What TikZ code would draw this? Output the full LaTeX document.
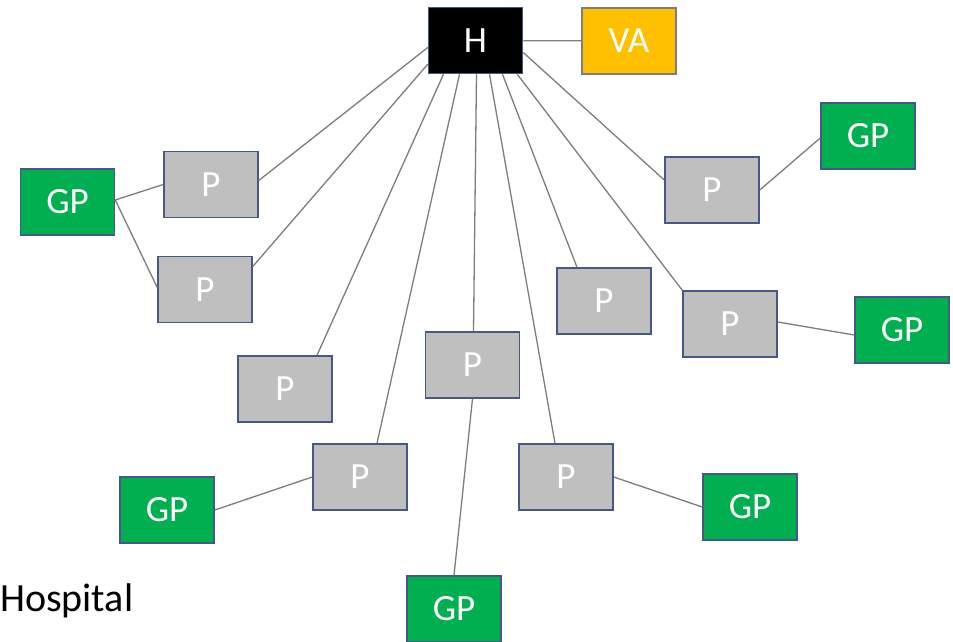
\documentclass[tikz,border=0pt]{standalone}
\usepackage{fontspec}
\setmainfont{Carlito}
\definecolor{boxedge}{RGB}{70,88,135}
\definecolor{pgrey}{RGB}{191,191,191}
\definecolor{gpgreen}{RGB}{0,176,80}
\definecolor{vayellow}{RGB}{255,192,0}
\definecolor{linkgrey}{RGB}{125,125,125}

\begin{document}
\begin{tikzpicture}[x=1pt, y=-1pt]
  \tikzset{box/.style={draw=boxedge,line width=1.5pt,minimum width=94pt,minimum height=66pt,
                       inner sep=0pt,text=white,font=\fontsize{37}{40}\selectfont},
           prac/.style={box,fill=pgrey},
           gp/.style={box,fill=gpgreen},
           link/.style={draw=linkgrey,line width=1.3pt}}
  \useasboundingbox (0,0) rectangle (953,642);
  \node[box,fill=black] (H) at (475.5,40.5) {H};
  \node[box,fill=vayellow,draw=linkgrey] (VA) at (629,41) {VA};
  \node[prac] (P1) at (211,184.5) {P};
  \node[prac] (P2) at (205,289.5) {P};
  \node[prac] (P3) at (712,190) {P};
  \node[prac] (P4) at (604,301) {P};
  \node[prac] (P5) at (730,324) {P};
  \node[prac] (P6) at (285,389) {P};
  \node[prac] (P7) at (472.5,365) {P};
  \node[prac] (P8) at (360,477) {P};
  \node[prac] (P9) at (566,477) {P};
  \node[gp] (GP1) at (67.5,202) {GP};
  \node[gp] (GP2) at (868,136) {GP};
  \node[gp] (GP3) at (902,330) {GP};
  \node[gp] (GP4) at (167,510) {GP};
  \node[gp] (GP5) at (750,507) {GP};
  \node[gp] (GP6) at (454,609) {GP};
  \node[anchor=base west,inner sep=0pt,font=\fontsize{40}{44}\selectfont] (hosp) at (0,611) {Hospital};
  % hospital to practices
  \draw[link] ([yshift=-7pt]H.west) -- ([yshift=4pt]P1.east);
  \draw[link] ([yshift=10pt]H.south west) -- ([yshift=23pt]P2.east);
  \draw[link] ([xshift=-32pt]H.south) -- ([xshift=32pt]P6.north);
  \draw[link] ([xshift=-16pt]H.south) -- ([xshift=17pt]P8.north);
  \draw[link] ([xshift=1pt]H.south) -- ([xshift=1pt]P7.north);
  \draw[link] ([xshift=14pt]H.south) -- ([xshift=-11pt]P9.north);
  \draw[link] ([xshift=27pt]H.south) -- ([xshift=-27pt]P4.north);
  \draw[link] ([xshift=-6pt]H.south east) -- (P5.north west);
  \draw[link] ([yshift=-12pt]H.east) -- ([yshift=10pt]P3.west);
  \draw[link] (H) -- (VA);
  % practices to GPs
  \draw[link] ([yshift=2pt]GP1.east) -- (P1.west);
  \draw[link] ([yshift=2pt]GP1.east) -- ([yshift=2pt]P2.west);
  \draw[link] (P3.east) -- ([yshift=-2pt]GP2.west);
  \draw[link] ([yshift=2pt]P5.east) -- ([yshift=-5pt]GP3.west);
  \draw[link] (P8.west) -- (GP4.east);
  \draw[link] (P9.east) -- (GP5.west);
  \draw[link] (P7.south) -- (GP6.north);
\end{tikzpicture}
\end{document}
